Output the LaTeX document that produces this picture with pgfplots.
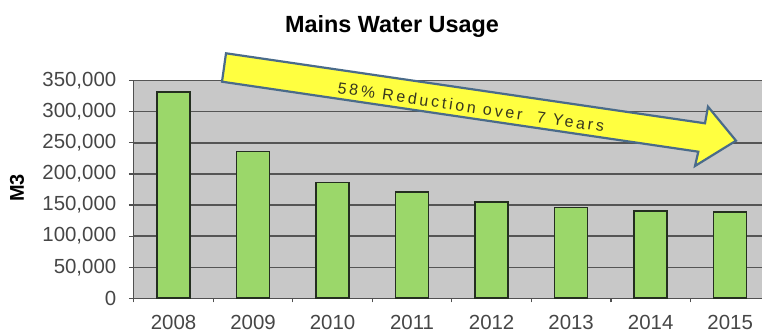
\documentclass[border=0pt]{standalone}
\usepackage{pgfplots}
\pgfplotsset{compat=1.18}
\usepackage{fontspec}
\setmainfont{Liberation Sans}
\newfontfamily\arrowfont[LetterSpace=18]{Liberation Sans}
\definecolor{plotbg}{RGB}{200,200,200}
\definecolor{gridgray}{RGB}{85,85,85}
\definecolor{axisgray}{RGB}{80,80,80}
\definecolor{bargreen}{RGB}{155,215,106}
\definecolor{baredge}{RGB}{36,46,32}
\definecolor{ticklab}{RGB}{70,70,70}
\definecolor{arrowyellow}{RGB}{255,255,64}
\definecolor{arrowedge}{RGB}{74,107,138}
\definecolor{arrowtext}{RGB}{55,55,30}
\begin{document}
\begin{tikzpicture}
\begin{axis}[
  at={(133.75bp,37.7bp)}, anchor=south west,
  scale only axis, width=628.25bp, height=217.6bp,
  xmin=-0.5, xmax=7.4, ymin=0, ymax=350000,
  axis background/.style={fill=plotbg},
  axis x line*=bottom, axis y line*=left,
  axis line style={draw=axisgray, line width=1.2bp, -},
  xtick={0,1,2,3,4,5,6,7},
  xticklabels={2008,2009,2010,2011,2012,2013,2014,2015},
  minor xtick={-0.5,0.5,1.5,2.5,3.5,4.5,5.5,6.5},
  major x tick style={draw=none},
  ytick={0,50000,100000,150000,200000,250000,300000,350000},
  tick align=outside,
  major tick length=5bp, minor tick length=4bp,
  tick style={draw=axisgray, line width=1.2bp},
  ymajorgrids,
  grid style={draw=gridgray, line width=1.4bp},
  scaled y ticks=false,
  /pgf/number format/.cd, 1000 sep={,}, fixed, assume math mode=true,
  /pgfplots/.cd,
  ticklabel style={font=\fontsize{20.5}{24}\selectfont, text=ticklab},
  yticklabel style={xshift=-9bp},
  xticklabel style={yshift=-8bp},
]
\addplot[ybar, bar width=33bp, fill=bargreen, draw=baredge, line width=1.6bp]
  coordinates {(0,332000) (1,236000) (2,186000) (3,171000) (4,155000) (5,146000) (6,140000) (7,139000)};
\end{axis}
\node[font=\bfseries\fontsize{23.5}{28}\selectfont, anchor=base] at (392bp,303bp) {Mains Water Usage};
\node[font=\bfseries\fontsize{20}{24}\selectfont, rotate=90] at (17bp,148bp) {M3};
\draw[draw=arrowedge, line width=2.2bp, fill=arrowyellow, line join=miter]
  (226bp,282.7bp) -- (705bp,212.7bp) -- (708bp,229.3bp) -- (736bp,195.3bp)
  -- (695bp,170bp) -- (698.3bp,184.3bp) -- (222bp,254.3bp) -- cycle;
\node[rotate=-8.3, text=arrowtext, font=\arrowfont\fontsize{16}{19}\selectfont] at (471bp,229bp) {58\% Reduction over\ \ 7 Years};
\pgfresetboundingbox
\useasboundingbox (0,0) rectangle (762bp,336bp);
\end{tikzpicture}
\end{document}
